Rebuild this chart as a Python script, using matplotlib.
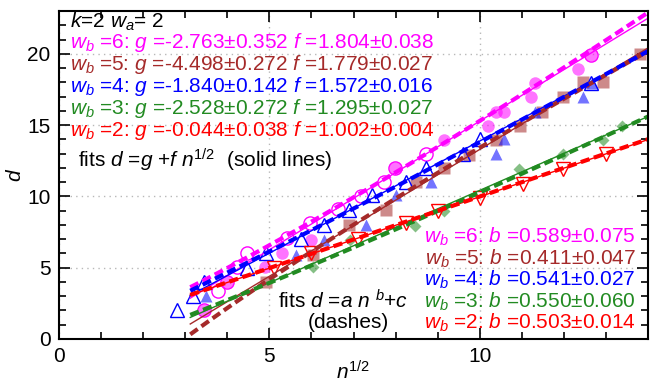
import numpy as np
import matplotlib
matplotlib.use('Agg')
import matplotlib.pyplot as plt
from matplotlib.ticker import MultipleLocator

plt.rcParams['font.family'] = ['Liberation Sans', 'DejaVu Sans']
plt.rcParams['mathtext.fontset'] = 'custom'
plt.rcParams['mathtext.rm'] = 'Liberation Sans'
plt.rcParams['mathtext.it'] = 'Liberation Sans:italic'
plt.rcParams['font.size'] = 15

# fit parameters, in order w_b = 6, 5, 4, 3, 2
wb = [6, 5, 4, 3, 2]
colors = ['#ff00ff', '#a52a2a', '#0000ff', '#228b22', '#ff0000']
g_val = [-2.763, -4.498, -1.840, -2.528, -0.044]
g_err = [0.352, 0.272, 0.142, 0.272, 0.038]
f_val = [1.804, 1.779, 1.572, 1.295, 1.002]
f_err = [0.038, 0.027, 0.016, 0.027, 0.004]
b_val = [0.589, 0.411, 0.541, 0.550, 0.503]
b_err = [0.075, 0.047, 0.027, 0.060, 0.014]
# a and c of the dashed fits
dash_a = [1.037, 3.20, 1.204, 0.944, 0.985]
dash_c = [-0.33, -7.83, -0.74, -1.61, 0.0]

# data points (x = n^1/2, d)
mag_open_x = [3.45, 3.77, 4.0, 4.24, 4.46, 5.43, 5.97, 6.62, 7.19, 7.73, 7.98, 8.72, 12.64]
mag_open_d = [2.0, 3.4, 4.0, 5.05, 6.0, 7.08, 8.1, 9.1, 10.05, 11.04, 12.0, 12.95, 19.93]
mag_fill_x = [3.45, 4.0, 4.9, 5.31, 6.0, 7.98, 9.14, 10.19, 10.38, 10.57, 11.23, 11.31, 12.33, 12.64]
mag_fill_d = [2.0, 4.0, 5.05, 6.0, 6.95, 12.0, 13.96, 14.97, 15.95, 15.95, 16.96, 17.94, 18.95, 19.93]

brn_x = [4.92, 6.03, 6.9, 7.77, 8.48, 9.15, 9.75, 10.38, 10.96, 11.47, 11.99, 12.46, 12.93, 13.82]
brn_d = [4.0, 5.9, 8.0, 9.05, 11.04, 11.98, 12.9, 13.92, 14.95, 15.95, 16.96, 17.99, 17.99, 19.98]

blu_open_x = [2.8, 3.18, 3.45, 4.48, 4.92, 5.75, 6.3, 6.9, 7.45, 8.24, 8.72, 9.6, 10.0, 12.64]
blu_open_d = [2.0, 3.0, 4.0, 5.0, 6.0, 7.0, 8.0, 9.05, 10.1, 11.04, 12.0, 13.0, 14.0, 17.94]
blu_fill_x = [3.5, 5.63, 6.3, 7.29, 8.0, 8.85, 10.38, 10.58, 11.31, 12.46, 12.66]
blu_fill_d = [3.0, 5.9, 6.95, 8.0, 10.1, 11.0, 13.0, 14.0, 15.95, 16.96, 17.97]

grn_x = [6.03, 6.92, 8.46, 9.14, 10.94, 11.98, 12.93, 13.39]
grn_d = [5.05, 6.95, 7.94, 8.96, 11.92, 12.98, 13.92, 14.97]

red_x = [5.1, 6.0, 7.1, 8.24, 9.02, 10.0, 11.03, 11.98, 13.0]
red_d = [5.0, 6.0, 7.0, 8.1, 9.0, 9.9, 10.9, 11.9, 12.96]

W, H = 662, 386
fig = plt.figure(figsize=(W / 100, H / 100), dpi=100)
ax = fig.add_axes([59 / W, 1 - 339 / H, (648 - 59) / W, (339 - 11) / H])


def px(x, y):
    return x / W, 1 - y / H


ax.plot(mag_fill_x, mag_fill_d, 'o', color=colors[0], alpha=0.55, ms=9, mec='none')
ax.plot(mag_open_x, mag_open_d, 'o', mfc='none', mec=colors[0], ms=9.5, mew=1)
ax.plot(brn_x, brn_d, 's', color=colors[1], alpha=0.55, ms=8, mec='none')
ax.plot(blu_fill_x, blu_fill_d, '^', color=colors[2], alpha=0.55, ms=8, mec='none')
ax.plot(blu_open_x, blu_open_d, '^', mfc='none', mec=colors[2], ms=9.5, mew=1)
ax.plot(grn_x, grn_d, 'D', color=colors[3], alpha=0.55, ms=6.5, mec='none')
ax.plot(red_x, red_d, 'v', mfc='none', mec=colors[4], ms=9.5, mew=1)

xs = np.linspace(3.12, 14.3, 80)
for i in range(5):
    ax.plot(xs, g_val[i] + f_val[i] * xs, '-', color=colors[i], lw=1)
for i in range(5):
    ax.plot(xs, dash_a[i] * xs ** (2 * b_val[i]) + dash_c[i], color=colors[i],
            lw=3, dashes=(2.2, 1.1))

ax.set_xlim(0, 14)
ax.set_ylim(0, 23)
ax.xaxis.set_major_locator(MultipleLocator(5))
ax.xaxis.set_minor_locator(MultipleLocator(1))
ax.yaxis.set_major_locator(MultipleLocator(5))
ax.yaxis.set_minor_locator(MultipleLocator(1))
ax.tick_params(which='both', direction='in', top=True, right=True, width=1.2)
ax.tick_params(which='major', length=8, pad=6)
ax.tick_params(which='minor', length=5)
ax.grid(True, which='major', color='#b8b8b8', ls=(0, (1, 3)), lw=1)
for s in ax.spines.values():
    s.set_linewidth(1.5)
ax.set_xlabel('$n^{1/2}$', labelpad=-4)
ax.set_ylabel('$d$', labelpad=2)

fig.text(*px(70, 22), '$k$=2 $w_a$= 2', va='center', ha='left')
ys_left = [43, 65, 87, 108, 130]
for i in range(5):
    s = '$w_b$ =%d: $g$ =%.3f\u00b1%.3f $f$ =%.3f\u00b1%.3f' % (
        wb[i], g_val[i], g_err[i], f_val[i], f_err[i])
    fig.text(*px(70, ys_left[i]), s, color=colors[i], va='center', ha='left')
fig.text(*px(78, 160), 'fits $d$ =$g$ +$f$ $n^{1/2}$  (solid lines)', va='center', ha='left')

ys_right = [237, 259, 280, 302, 323]
for i in range(5):
    s = '$w_b$ =%d: $b$ =%.3f\u00b1%.3f' % (wb[i], b_val[i], b_err[i])
    fig.text(*px(636, ys_right[i]), s, color=colors[i], va='center', ha='right')
fig.text(*px(343, 301), 'fits $d$ =$a$ $n$ $^b$+$c$', va='center', ha='center')
fig.text(*px(348, 323), '(dashes)', va='center', ha='center')

fig.savefig('out.png', dpi=100)
